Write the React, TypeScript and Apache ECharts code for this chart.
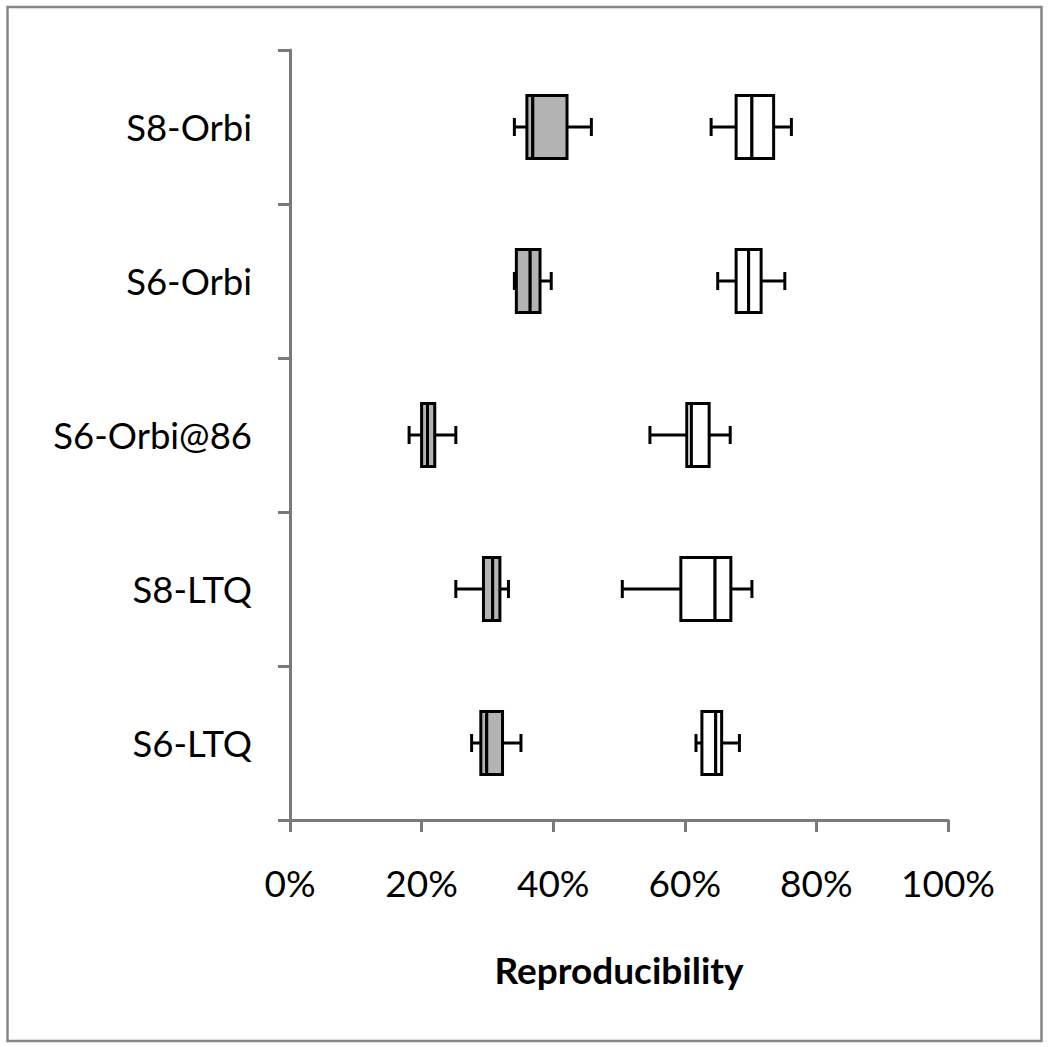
import React, { useEffect, useRef } from "react";
import * as echarts from "echarts";

const categories = ["S8-Orbi", "S6-Orbi", "S6-Orbi@86", "S8-LTQ", "S6-LTQ"];
// [min, Q1, median, Q3, max] in %
const grayBoxes = [
  [34.1, 36.0, 36.9, 42.1, 45.8],
  [34.1, 34.4, 36.5, 38.0, 39.7],
  [18.1, 20.0, 20.9, 22.0, 25.2],
  [25.2, 29.4, 30.8, 31.9, 33.2],
  [27.6, 29.0, 29.9, 32.3, 35.1],
];
const whiteBoxes = [
  [64.0, 67.8, 70.2, 73.5, 76.2],
  [65.0, 67.8, 69.7, 71.6, 75.2],
  [54.7, 60.3, 61.0, 63.7, 66.9],
  [50.5, 59.4, 64.6, 67.0, 70.2],
  [61.7, 62.6, 64.7, 65.6, 68.3],
];
const xTicks = [0, 20, 40, 60, 80, 100];

const FONT = "Lato, 'DejaVu Sans', sans-serif";

function renderBox(fill: string) {
  return (params: any, api: any) => {
    const cat = api.value(0);
    const vmin = api.value(1);
    const q1 = api.value(2);
    const med = api.value(3);
    const q3 = api.value(4);
    const vmax = api.value(5);
    const pMin = api.coord([vmin, cat]);
    const pQ1 = api.coord([q1, cat]);
    const pMed = api.coord([med, cat]);
    const pQ3 = api.coord([q3, cat]);
    const pMax = api.coord([vmax, cat]);
    const band = api.size([0, 1])[1];
    const h = band * 0.41;
    const cy = pMed[1];
    const cap = 9;
    const lineStyle = { stroke: "#000", lineWidth: 3, fill: "none" };
    const rectStyle = { fill, stroke: "#000", lineWidth: 3 };
    return {
      type: "group",
      children: [
        { type: "line", shape: { x1: pMin[0], y1: cy, x2: pQ1[0], y2: cy }, style: lineStyle },
        { type: "line", shape: { x1: pQ3[0], y1: cy, x2: pMax[0], y2: cy }, style: lineStyle },
        { type: "line", shape: { x1: pMin[0], y1: cy - cap, x2: pMin[0], y2: cy + cap }, style: lineStyle },
        { type: "line", shape: { x1: pMax[0], y1: cy - cap, x2: pMax[0], y2: cy + cap }, style: lineStyle },
        { type: "rect", shape: { x: pQ1[0], y: cy - h / 2, width: pMed[0] - pQ1[0], height: h }, style: rectStyle },
        { type: "rect", shape: { x: pMed[0], y: cy - h / 2, width: pQ3[0] - pMed[0], height: h }, style: rectStyle },
      ],
    };
  };
}

export default function App() {
  const ref = useRef<HTMLDivElement>(null);
  useEffect(() => {
    if (!ref.current) return;
    const chart = echarts.init(ref.current, null, { renderer: "svg" });
    const toData = (arr: number[][]) => arr.map((v, i) => [i, ...v]);
    chart.setOption({
      animation: false,
      backgroundColor: "#fff",
      textStyle: { fontFamily: FONT },
      graphic: [
        {
          type: "rect",
          shape: { x: 7.5, y: 7, width: 1034, height: 1034 },
          style: { fill: "none", stroke: "#868686", lineWidth: 2.5 },
          silent: true,
        },
      ],
      grid: { left: 290, right: 102, top: 50, bottom: 227, containLabel: false },
      xAxis: {
        type: "value",
        min: 0,
        max: 100,
        interval: 20,
        name: "Reproducibility",
        nameLocation: "middle",
        nameGap: 131,
        nameTextStyle: { fontFamily: FONT, fontSize: 37, fontWeight: "bold", color: "#000" },
        axisLine: { show: true, lineStyle: { color: "#7a7a7a", width: 3 } },
        axisTick: { show: true, length: 12, lineStyle: { color: "#7a7a7a", width: 3 } },
        splitLine: { show: false },
        axisLabel: {
          fontFamily: FONT,
          fontSize: 37,
          color: "#000",
          margin: 44,
          formatter: (v: number) => (xTicks.includes(v) ? v + "%" : ""),
        },
      },
      yAxis: {
        type: "category",
        data: categories,
        inverse: true,
        axisLine: { show: true, lineStyle: { color: "#7a7a7a", width: 3 } },
        axisTick: { show: true, length: 12, lineStyle: { color: "#7a7a7a", width: 3 } },
        axisLabel: { fontFamily: FONT, fontSize: 36.5, color: "#000", margin: 38 },
      },
      series: [
        {
          type: "custom",
          name: "gray",
          renderItem: renderBox("#b3b3b3"),
          encode: { x: [1, 2, 3, 4, 5], y: 0 },
          data: toData(grayBoxes),
          z: 3,
        },
        {
          type: "custom",
          name: "white",
          renderItem: renderBox("#ffffff"),
          encode: { x: [1, 2, 3, 4, 5], y: 0 },
          data: toData(whiteBoxes),
          z: 3,
        },
      ],
    });
    return () => chart.dispose();
  }, []);
  return (
    <div
      ref={ref}
      style={{ position: "absolute", left: 0, top: 0, width: 1050, height: 1047 }}
    />
  );
}
